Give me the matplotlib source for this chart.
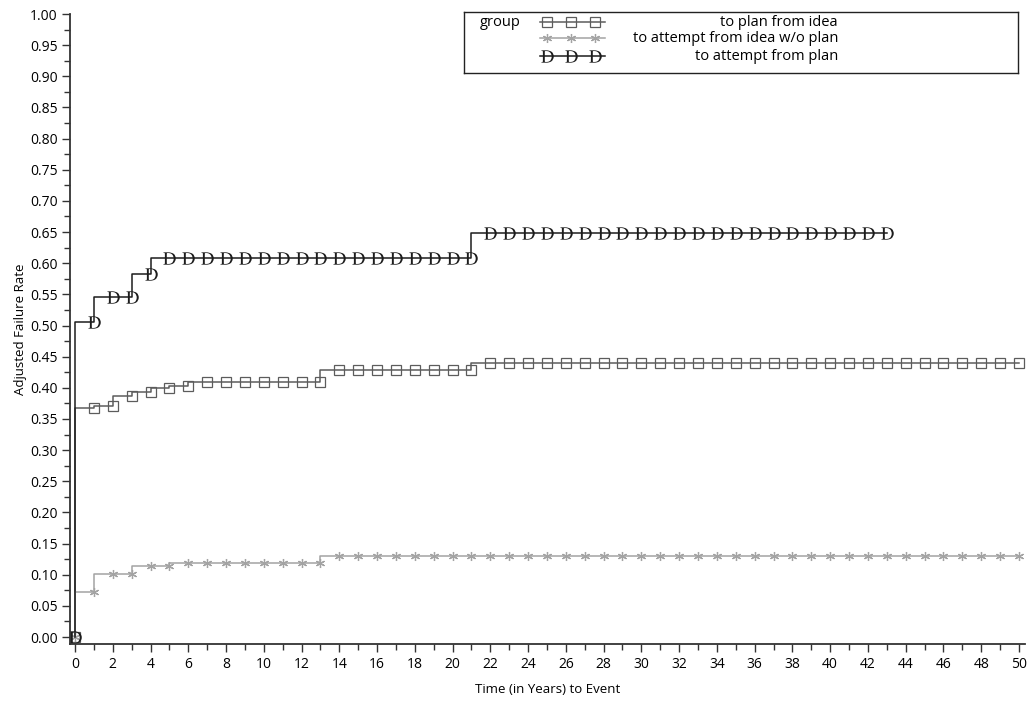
import matplotlib
matplotlib.use('Agg')
import matplotlib.pyplot as plt
import numpy as np
from matplotlib.ticker import MultipleLocator, FormatStrFormatter

plt.rcParams['font.family'] = ['Open Sans', 'DejaVu Sans']
plt.rcParams['mathtext.fontset'] = 'stix'

years_long = list(range(0, 51))
years_short = list(range(0, 44))

plan_from_idea = [0.000, 0.367, 0.371, 0.387, 0.393, 0.400, 0.403,
                  0.410, 0.410, 0.410, 0.410, 0.410, 0.410, 0.410,
                  0.428, 0.428, 0.428, 0.428, 0.428, 0.428, 0.428, 0.428,
                  0.440, 0.440, 0.440, 0.440, 0.440, 0.440, 0.440, 0.440,
                  0.440, 0.440, 0.440, 0.440, 0.440, 0.440, 0.440, 0.440,
                  0.440, 0.440, 0.440, 0.440, 0.440, 0.440, 0.440, 0.440,
                  0.440, 0.440, 0.440, 0.440, 0.440]

attempt_no_plan = [0.000, 0.072, 0.101, 0.101, 0.114, 0.114,
                   0.119, 0.119, 0.119, 0.119, 0.119, 0.119, 0.119, 0.119,
                   0.130, 0.130, 0.130, 0.130, 0.130, 0.130, 0.130, 0.130,
                   0.130, 0.130, 0.130, 0.130, 0.130, 0.130, 0.130, 0.130,
                   0.130, 0.130, 0.130, 0.130, 0.130, 0.130, 0.130, 0.130,
                   0.130, 0.130, 0.130, 0.130, 0.130, 0.130, 0.130, 0.130,
                   0.130, 0.130, 0.130, 0.130, 0.130]

attempt_from_plan = [0.000, 0.505, 0.545, 0.545, 0.582,
                     0.608, 0.608, 0.608, 0.608, 0.608, 0.608, 0.608, 0.608,
                     0.608, 0.608, 0.608, 0.608, 0.608, 0.608, 0.608, 0.608, 0.608,
                     0.649, 0.649, 0.649, 0.649, 0.649, 0.649, 0.649, 0.649,
                     0.649, 0.649, 0.649, 0.649, 0.649, 0.649, 0.649, 0.649,
                     0.649, 0.649, 0.649, 0.649, 0.649, 0.649]

labels = ['to plan from idea', 'to attempt from idea w/o plan', 'to attempt from plan']
col_plan = '#5c5c5c'
col_noplan = '#a3a3a3'
col_attempt = '#1c1c1c'

styles = [
    dict(color=col_plan, marker='s', markersize=6.5, markerfacecolor='none', markeredgewidth=0.9),
    dict(color=col_noplan, marker=(6, 2, 0), markersize=6.5, markeredgewidth=0.9),
    dict(color=col_attempt, marker=r'$\mathrm{D}$', markersize=9, markeredgewidth=0),
]

fig = plt.figure(figsize=(10.34, 7.05), dpi=100)
ax = fig.add_axes([70 / 1034, 61 / 705, 955 / 1034, 630 / 705])

ax.plot(years_long, plan_from_idea, drawstyle='steps-pre', lw=1.1, **styles[0])
ax.plot(years_long, attempt_no_plan, drawstyle='steps-pre', lw=1.1, **styles[1])
ax.plot(years_short, attempt_from_plan, drawstyle='steps-pre', lw=1.1, **styles[2])

ax.set_xlim(-0.265, 50.32)
ax.set_ylim(-0.0112, 1.0)
ax.spines['top'].set_visible(False)
ax.spines['right'].set_visible(False)
ax.spines['left'].set_color('#333333')
ax.spines['bottom'].set_color('#333333')
ax.spines['left'].set_linewidth(1.3)
ax.spines['bottom'].set_linewidth(1.3)

ax.xaxis.set_major_locator(MultipleLocator(2))
ax.xaxis.set_minor_locator(MultipleLocator(1))
ax.yaxis.set_major_locator(MultipleLocator(0.05))
ax.yaxis.set_minor_locator(MultipleLocator(0.025))
ax.yaxis.set_major_formatter(FormatStrFormatter('%.2f'))
ax.tick_params(which='major', length=6, width=1, color='#333333', labelsize=10, pad=3)
ax.tick_params(which='minor', length=4, width=1, color='#333333')
ax.set_xlabel('Time (in Years) to Event', fontsize=9.5, labelpad=8)
ax.set_ylabel('Adjusted Failure Rate', fontsize=9.5, labelpad=2)

# legend box drawn by hand (SAS style)
lg = fig.add_axes([464 / 1034, 1 - 73 / 705, 554 / 1034, 61 / 705])
lg.set_xlim(0, 554)
lg.set_ylim(61, 0)
lg.set_xticks([])
lg.set_yticks([])
for s in lg.spines.values():
    s.set_linewidth(1.0)
    s.set_color('#222222')
lg.text(16, 10, 'group', fontsize=10.5, va='center', ha='left')
row_y = [10, 26, 44]
sample_x = [76, 83, 107, 131, 141]
for lab, st, yy in zip(labels, styles, row_y):
    lg.plot(sample_x, [yy] * len(sample_x), lw=1.1, markevery=[1, 2, 3], **st)
    lg.text(374, yy, lab, fontsize=10.5, va='center', ha='right')

fig.savefig('out.png', dpi=100)
